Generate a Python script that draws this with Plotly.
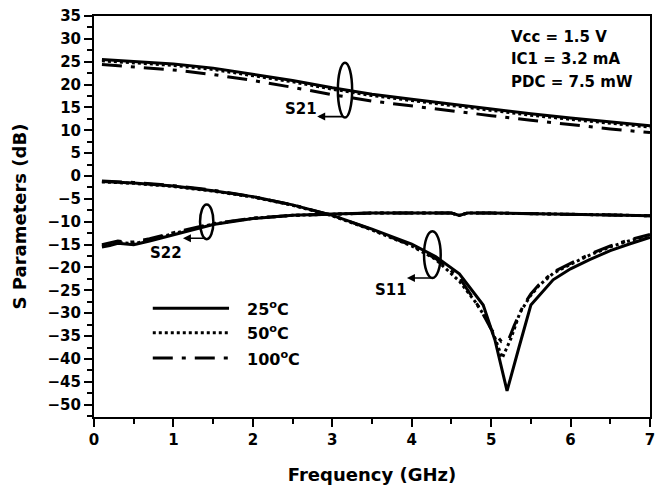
import plotly.graph_objects as go

# ---------------- data ----------------
f21 = [0.1, 0.3, 0.5, 1.0, 1.5, 2.0, 2.5, 3.0, 3.5, 4.0, 4.5, 5.0, 5.5, 6.0, 6.5, 7.0]
s21_25 = [25.5, 25.3, 25.1, 24.5, 23.6, 22.3, 20.9, 19.3, 17.9, 16.8, 15.7, 14.6, 13.6, 12.7, 11.8, 11.0]
s21_50 = [25.2, 25.0, 24.8, 24.2, 23.3, 22.0, 20.6, 19.0, 17.6, 16.5, 15.4, 14.3, 13.3, 12.4, 11.5, 10.7]
s21_100 = [24.4, 24.1, 23.9, 23.2, 22.2, 20.9, 19.4, 17.8, 16.4, 15.3, 14.3, 13.2, 12.2, 11.2, 10.3, 9.5]

f22 = [0.1, 0.2, 0.3, 0.4, 0.5, 0.7, 1.0, 1.5, 2.0, 2.5, 3.0, 3.5, 4.0, 4.5, 4.6, 4.7, 5.0, 5.5, 6.0, 6.5, 7.0]
s22_25 = [-15.5, -15.2, -14.7, -14.9, -15.0, -14.2, -12.8, -10.6, -9.3, -8.6, -8.3, -8.1, -8.1, -8.1, -8.6, -8.1, -8.1, -8.2, -8.4, -8.5, -8.7]
s22_50 = [-15.3, -15.0, -14.5, -14.7, -14.8, -14.0, -12.6, -10.5, -9.25, -8.6, -8.3, -8.1, -8.1, -8.1, -8.6, -8.1, -8.1, -8.2, -8.4, -8.5, -8.7]
s22_100 = [-15.0, -14.6, -14.2, -14.5, -14.4, -13.7, -12.4, -10.4, -9.2, -8.6, -8.3, -8.1, -8.1, -8.1, -8.6, -8.1, -8.1, -8.2, -8.4, -8.5, -8.7]

f11_25 = [0.1, 0.5, 1.0, 1.5, 2.0, 2.5, 3.0, 3.5, 4.0, 4.3, 4.6, 4.9, 5.05, 5.2, 5.35, 5.5, 5.78, 6.0, 6.24, 6.5, 6.75, 7.0]
s11_25 = [-1.2, -1.5, -2.2, -3.2, -4.5, -6.3, -8.6, -11.6, -14.9, -17.6, -21.4, -28.2, -36.0, -47.0, -37.5, -28.2, -22.7, -20.3, -18.3, -16.3, -14.8, -13.4]

f11_50 = [0.1, 0.5, 1.0, 1.5, 2.0, 2.5, 3.0, 3.5, 4.0, 4.3, 4.6, 4.8, 4.95, 5.05, 5.14, 5.25, 5.36, 5.49, 5.6, 5.78, 6.0, 6.24, 6.5, 6.75, 7.0]
s11_50 = [-1.3, -1.6, -2.3, -3.3, -4.6, -6.4, -8.7, -11.8, -15.3, -18.2, -23.0, -27.5, -31.5, -35.5, -39.8, -35.5, -30.0, -26.3, -24.0, -21.3, -19.3, -17.3, -15.5, -14.1, -13.0]

f11_100 = [0.1, 0.5, 1.0, 1.5, 2.0, 2.5, 3.0, 3.5, 4.0, 4.3, 4.6, 4.86, 5.0, 5.13, 5.22, 5.29, 5.4, 5.5, 5.6, 5.78, 6.0, 6.24, 6.5, 6.75, 7.0]
s11_100 = [-1.1, -1.4, -2.1, -3.1, -4.5, -6.3, -8.6, -11.7, -15.2, -18.0, -22.2, -29.0, -33.5, -36.2, -35.8, -32.7, -28.5, -25.8, -23.8, -21.0, -19.1, -17.1, -15.3, -13.9, -12.8]

temps = ["25<sup>o</sup>C", "50<sup>o</sup>C", "100<sup>o</sup>C"]
dashes = ["solid", "dot", "20px,9px,4px,9px"]

FONT = dict(family="DejaVu Sans", color="black", weight="bold")
LW = 3

fig = go.Figure()

series = [
    (f21, [s21_25, s21_50, s21_100]),
    (f22, [s22_25, s22_50, s22_100]),
]
for fx, ys in series:
    for y, d in zip(ys, dashes):
        fig.add_trace(go.Scatter(x=fx, y=y, mode="lines", showlegend=False,
                                 line=dict(color="black", width=LW, dash=d)))
for fx, y, d in zip([f11_25, f11_50, f11_100], [s11_25, s11_50, s11_100], dashes):
    fig.add_trace(go.Scatter(x=fx, y=y, mode="lines", showlegend=False,
                             line=dict(color="black", width=LW, dash=d)))

# ---------------- ellipses & arrows ----------------
ellipses = [(3.07, 3.25, 12.8, 24.8), (1.335, 1.503, -13.8, -6.2), (4.155, 4.365, -22.3, -12.1)]
for x0, x1, y0, y1 in ellipses:
    fig.add_shape(type="circle", xref="x", yref="y", x0=x0, x1=x1, y0=y0, y1=y1,
                  line=dict(color="black", width=2.5))

arrows = [(3.16, 2.81, 13.0), (1.42, 1.12, -13.6), (4.26, 3.94, -22.3)]
for xs, xt, yv in arrows:
    fig.add_annotation(x=xt, y=yv, ax=xs, ay=yv, axref="x", ayref="y", xref="x", yref="y",
                       text="", showarrow=True, arrowhead=2, arrowsize=1, arrowwidth=1.6,
                       arrowcolor="black")

labels = [("S21", 2.61, 14.7), ("S22", 0.906, -16.8), ("S11", 3.74, -24.9)]
for t, x, y in labels:
    fig.add_annotation(x=x, y=y, text=t, showarrow=False, font=dict(size=15, **FONT))

cond = ["Vcc = 1.5 V", "IC1 = 3.2 mA", "PDC = 7.5 mW"]
for i, t in enumerate(cond):
    fig.add_annotation(x=5.22, y=30.4 - 4.9 * i, text=t, showarrow=False, xanchor="left",
                       font=dict(size=15, **FONT))

# ---------------- manual legend ----------------
leg_y = [-28.9, -34.3, -39.8]
for t, d, yv in zip(temps, dashes, leg_y):
    fig.add_shape(type="line", xref="x", yref="y", x0=0.74, x1=1.70, y0=yv, y1=yv,
                  line=dict(color="black", width=LW, dash=d))
    fig.add_annotation(x=1.90, y=yv, text=t, showarrow=False, xanchor="left",
                       font=dict(size=16, **FONT))

axis_common = dict(showline=True, linewidth=2, linecolor="black", showgrid=False,
                   zeroline=False, tickwidth=2, tickcolor="black", automargin=False)

fig.update_layout(
    width=662, height=490,
    margin=dict(l=94, r=12, t=16, b=73),
    paper_bgcolor="white", plot_bgcolor="white",
    font=dict(size=15, **FONT),
    xaxis=dict(range=[0, 7], dtick=1, ticks="outside", ticklen=8, mirror=True,
               minor=dict(dtick=0.5, ticks="outside", ticklen=5, tickwidth=2, tickcolor="black"),
               tickfont=dict(size=15, **FONT),
               title=dict(text="Frequency (GHz)", font=dict(size=18, **FONT), standoff=20),
               **axis_common),
    yaxis=dict(range=[-52.7, 35], dtick=5, tick0=0, ticks="outside", ticklen=8, mirror=True,
               minor=dict(dtick=2.5, ticks="outside", ticklen=5, tickwidth=2, tickcolor="black"),
               tickfont=dict(size=15, **FONT),
               title=dict(text="S Parameters (dB)", font=dict(size=18, **FONT), standoff=16),
               **axis_common),
    xaxis2=dict(overlaying="x", side="top", matches="x", anchor="y", range=[0, 7], dtick=0.5,
                ticks="inside", ticklen=3, showticklabels=False, showgrid=False, zeroline=False,
                tickwidth=1.5, tickcolor="black", automargin=False),
    yaxis2=dict(overlaying="y", side="right", matches="y", anchor="x", range=[-52.7, 35], dtick=2.5,
                ticks="outside", ticklen=3, showticklabels=False, showgrid=False, zeroline=False,
                tickwidth=1.5, tickcolor="black", automargin=False),
)

fig.write_html("out.html")
